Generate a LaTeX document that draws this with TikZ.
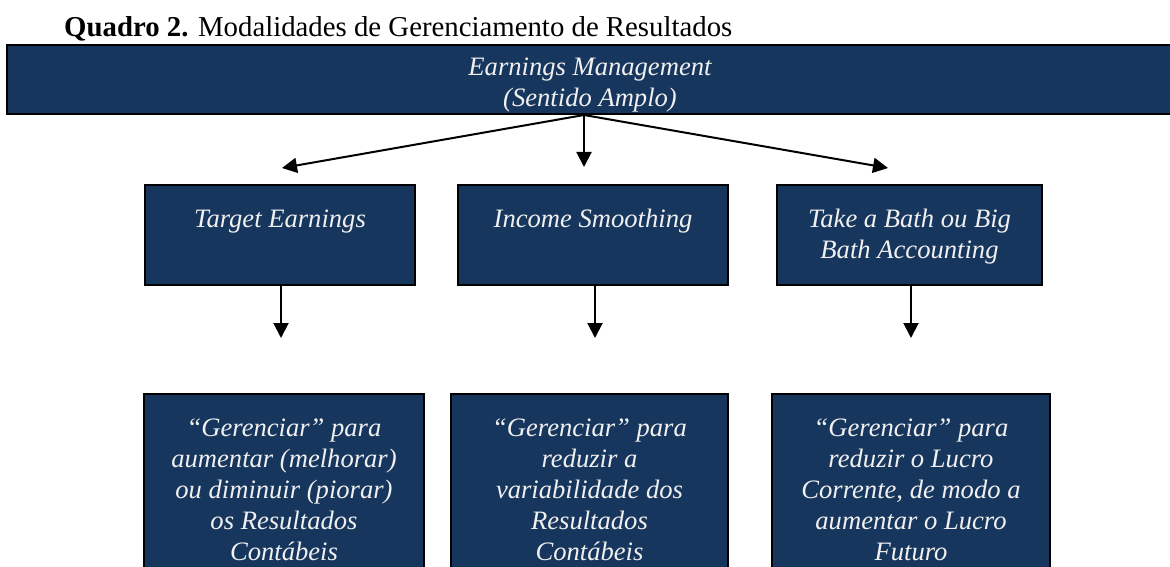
\documentclass[tikz,border=0pt]{standalone}
\usepackage{fontspec}
\setmainfont{Liberation Serif}
\usetikzlibrary{arrows.meta, positioning}
\usepackage{xcolor}
\definecolor{navybox}{RGB}{23,54,93}
% text set at the top of a box: [gap above], width, height, lines
\newcommand{\toptext}[4][20.6pt]{\parbox[c][#3][t]{#2}{\centering\vspace*{#1}\strut #4}}

\begin{document}
\begin{tikzpicture}[x=1pt, y=-1pt,
    box/.style={draw=black, line width=2.8pt, fill=navybox, text=white!94!black, inner sep=0pt,
        font=\fontsize{26.6}{31}\selectfont\itshape},
    arr/.style={line width=2pt, -{Triangle[length=15pt, width=15pt]}}]
    \clip (0,0) rectangle (1170,567);

    % Title
    \node[anchor=base west, inner sep=0pt, font=\fontsize{28.8}{32}\selectfont] (title) at (64,36.5)
        {\textbf{Quadro 2.} Modalidades de Gerenciamento de Resultados};

    % Top box
    \node[box, minimum width=1166pt, minimum height=69pt] (earnings) at (590,79.5)
        {\toptext[8.6pt]{1166pt}{69pt}{Earnings Management\\(Sentido Amplo)}};

    % Modalities
    \node[box, minimum width=270pt, minimum height=100pt] (target) at (280,235)
        {\toptext{270pt}{100pt}{Target Earnings}};
    \node[box, minimum width=270pt, minimum height=100pt] (smoothing) at (593,235)
        {\toptext{270pt}{100pt}{Income Smoothing}};
    \node[box, minimum width=265pt, minimum height=100pt] (bath) at (909.5,235)
        {\toptext{265pt}{100pt}{Take a Bath ou Big\\Bath Accounting}};

    % Descriptions
    \node[box, minimum width=280pt, minimum height=182pt] (dtarget) at (284,485)
        {\toptext{280pt}{182pt}{``Gerenciar'' para\\aumentar (melhorar)\\ou diminuir (piorar)\\os Resultados\\Contábeis}};
    \node[box, minimum width=277pt, minimum height=182pt] (dsmoothing) at (589.5,485)
        {\toptext{277pt}{182pt}{``Gerenciar'' para\\reduzir a\\variabilidade dos\\Resultados\\Contábeis}};
    \node[box, minimum width=278pt, minimum height=182pt] (dbath) at (911,485)
        {\toptext{278pt}{182pt}{``Gerenciar'' para\\reduzir o Lucro\\Corrente, de modo a\\aumentar o Lucro\\Futuro}};

    % Connections
    \coordinate (fork) at (584,115);
    \coordinate (tipL) at (282,168);
    \coordinate (tipM) at (584,167);
    \coordinate (tipR) at (888,168);
    \draw[arr] (fork) -- (tipL);
    \draw[arr] (fork) -- (tipM);
    \draw[arr] (fork) -- (tipR);

    \coordinate (downT) at (281,338);
    \coordinate (downS) at (595,338);
    \coordinate (downB) at (911,338);
    \draw[arr] (target.south -| downT) -- (downT);
    \draw[arr] (smoothing.south -| downS) -- (downS);
    \draw[arr] (bath.south -| downB) -- (downB);
\end{tikzpicture}
\end{document}
